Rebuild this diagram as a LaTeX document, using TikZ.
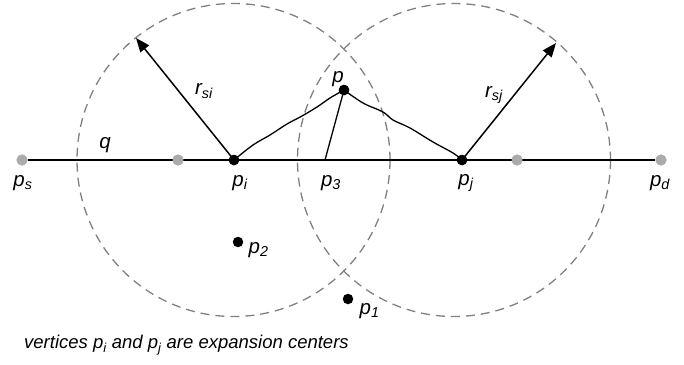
\documentclass[tikz,border=0pt]{standalone}
\usepackage{fontspec}
\setmainfont{Liberation Sans}
\usetikzlibrary{arrows.meta,positioning,calc}

\newcommand{\vlab}[2]{\textit{#1\textsubscript{#2}}}

\begin{document}
\begin{tikzpicture}[x=1pt,y=-1pt,
    zone/.style={draw=black!50, dash pattern=on 9pt off 6pt, line width=1.3pt},
    seg/.style={draw=black, line width=2pt},
    radius arrow/.style={draw=black, line width=1.5pt, -{Triangle[length=14pt,width=11pt]}},
    route/.style={draw=black, line width=1.3pt},
    hub/.style={circle, fill=black, inner sep=0pt, minimum size=10.5pt},
    waypt/.style={circle, fill=black!33, inner sep=0pt, minimum size=11pt},
    lbl/.style={font=\fontsize{20.5}{22}\selectfont, inner sep=0pt}]

\useasboundingbox (0,0) rectangle (684,364);

% range circles
\coordinate (ci) at (233.5,160);
\coordinate (cj) at (454,160);
\draw[zone] (ci) circle (156.5);
\draw[zone] (cj) circle (156.5);

% the segment from ps to pd
\node[waypt] (ps) at (22,160) {};
\node[waypt] (g1) at (178,160) {};
\node[hub] (pi) at (234,160) {};
\coordinate (p3) at (325,160);
\node[hub] (pj) at (462,160) {};
\node[waypt] (g2) at (517,160) {};
\node[waypt] (pd) at (661,160) {};
\draw[seg] (ps) -- (pi) -- (pj) -- (pd);
\node[waypt] at (g1) {};
\node[waypt] at (g2) {};
\node[waypt] at (ps) {};
\node[waypt] at (pd) {};

% radii
\coordinate (ti) at (136,38);
\coordinate (tj) at (556,43);
\draw[radius arrow] (pi.center) -- (ti);
\draw[radius arrow] (pj.center) -- (tj);

% the point p and its path
\node[hub] (p) at (344,90) {};
\draw[route] plot[smooth, tension=0.6] coordinates
  {(234,160) (253,145) (270,135) (287,124) (302,116) (317,107) (330,98) (344,90)};
\draw[route] plot[smooth, tension=0.6] coordinates
  {(344,90) (363,103) (383,112) (393,120) (410,128) (433,142) (453,153) (462,160)};
\draw[route] (p.center) -- (p3);
\node[hub] at (p) {};
\node[hub] at (pi) {};
\node[hub] at (pj) {};

% other vertices
\node[hub] (p2) at (238,242) {};
\node[hub] (p1) at (348,299) {};

% labels
\node[lbl] at (23,183) {\vlab{p}{s}};
\node[lbl] at (660,183) {\vlab{p}{d}};
\node[lbl] at (240,183) {\vlab{p}{i}};
\node[lbl] at (331,183) {\vlab{p}{3}};
\node[lbl] at (466,183) {\vlab{p}{j}};
\node[lbl] at (338,79) {\textit{p}};
\node[lbl] at (105,145) {\textit{q}};
\node[lbl] at (204,91) {\vlab{r}{si}};
\node[lbl] at (494,95) {\vlab{r}{sj}};
\node[lbl, right=5pt of p2, yshift=-8pt] {\vlab{p}{2}};
\node[lbl, right=6pt of p1, yshift=-12pt] {\vlab{p}{1}};

\node[font=\fontsize{18.5}{20}\selectfont\itshape, anchor=west, inner sep=0pt] (cap) at (24,345)
  {vertices \vlab{p}{i} and \vlab{p}{j} are expansion centers};
\end{tikzpicture}
\end{document}
